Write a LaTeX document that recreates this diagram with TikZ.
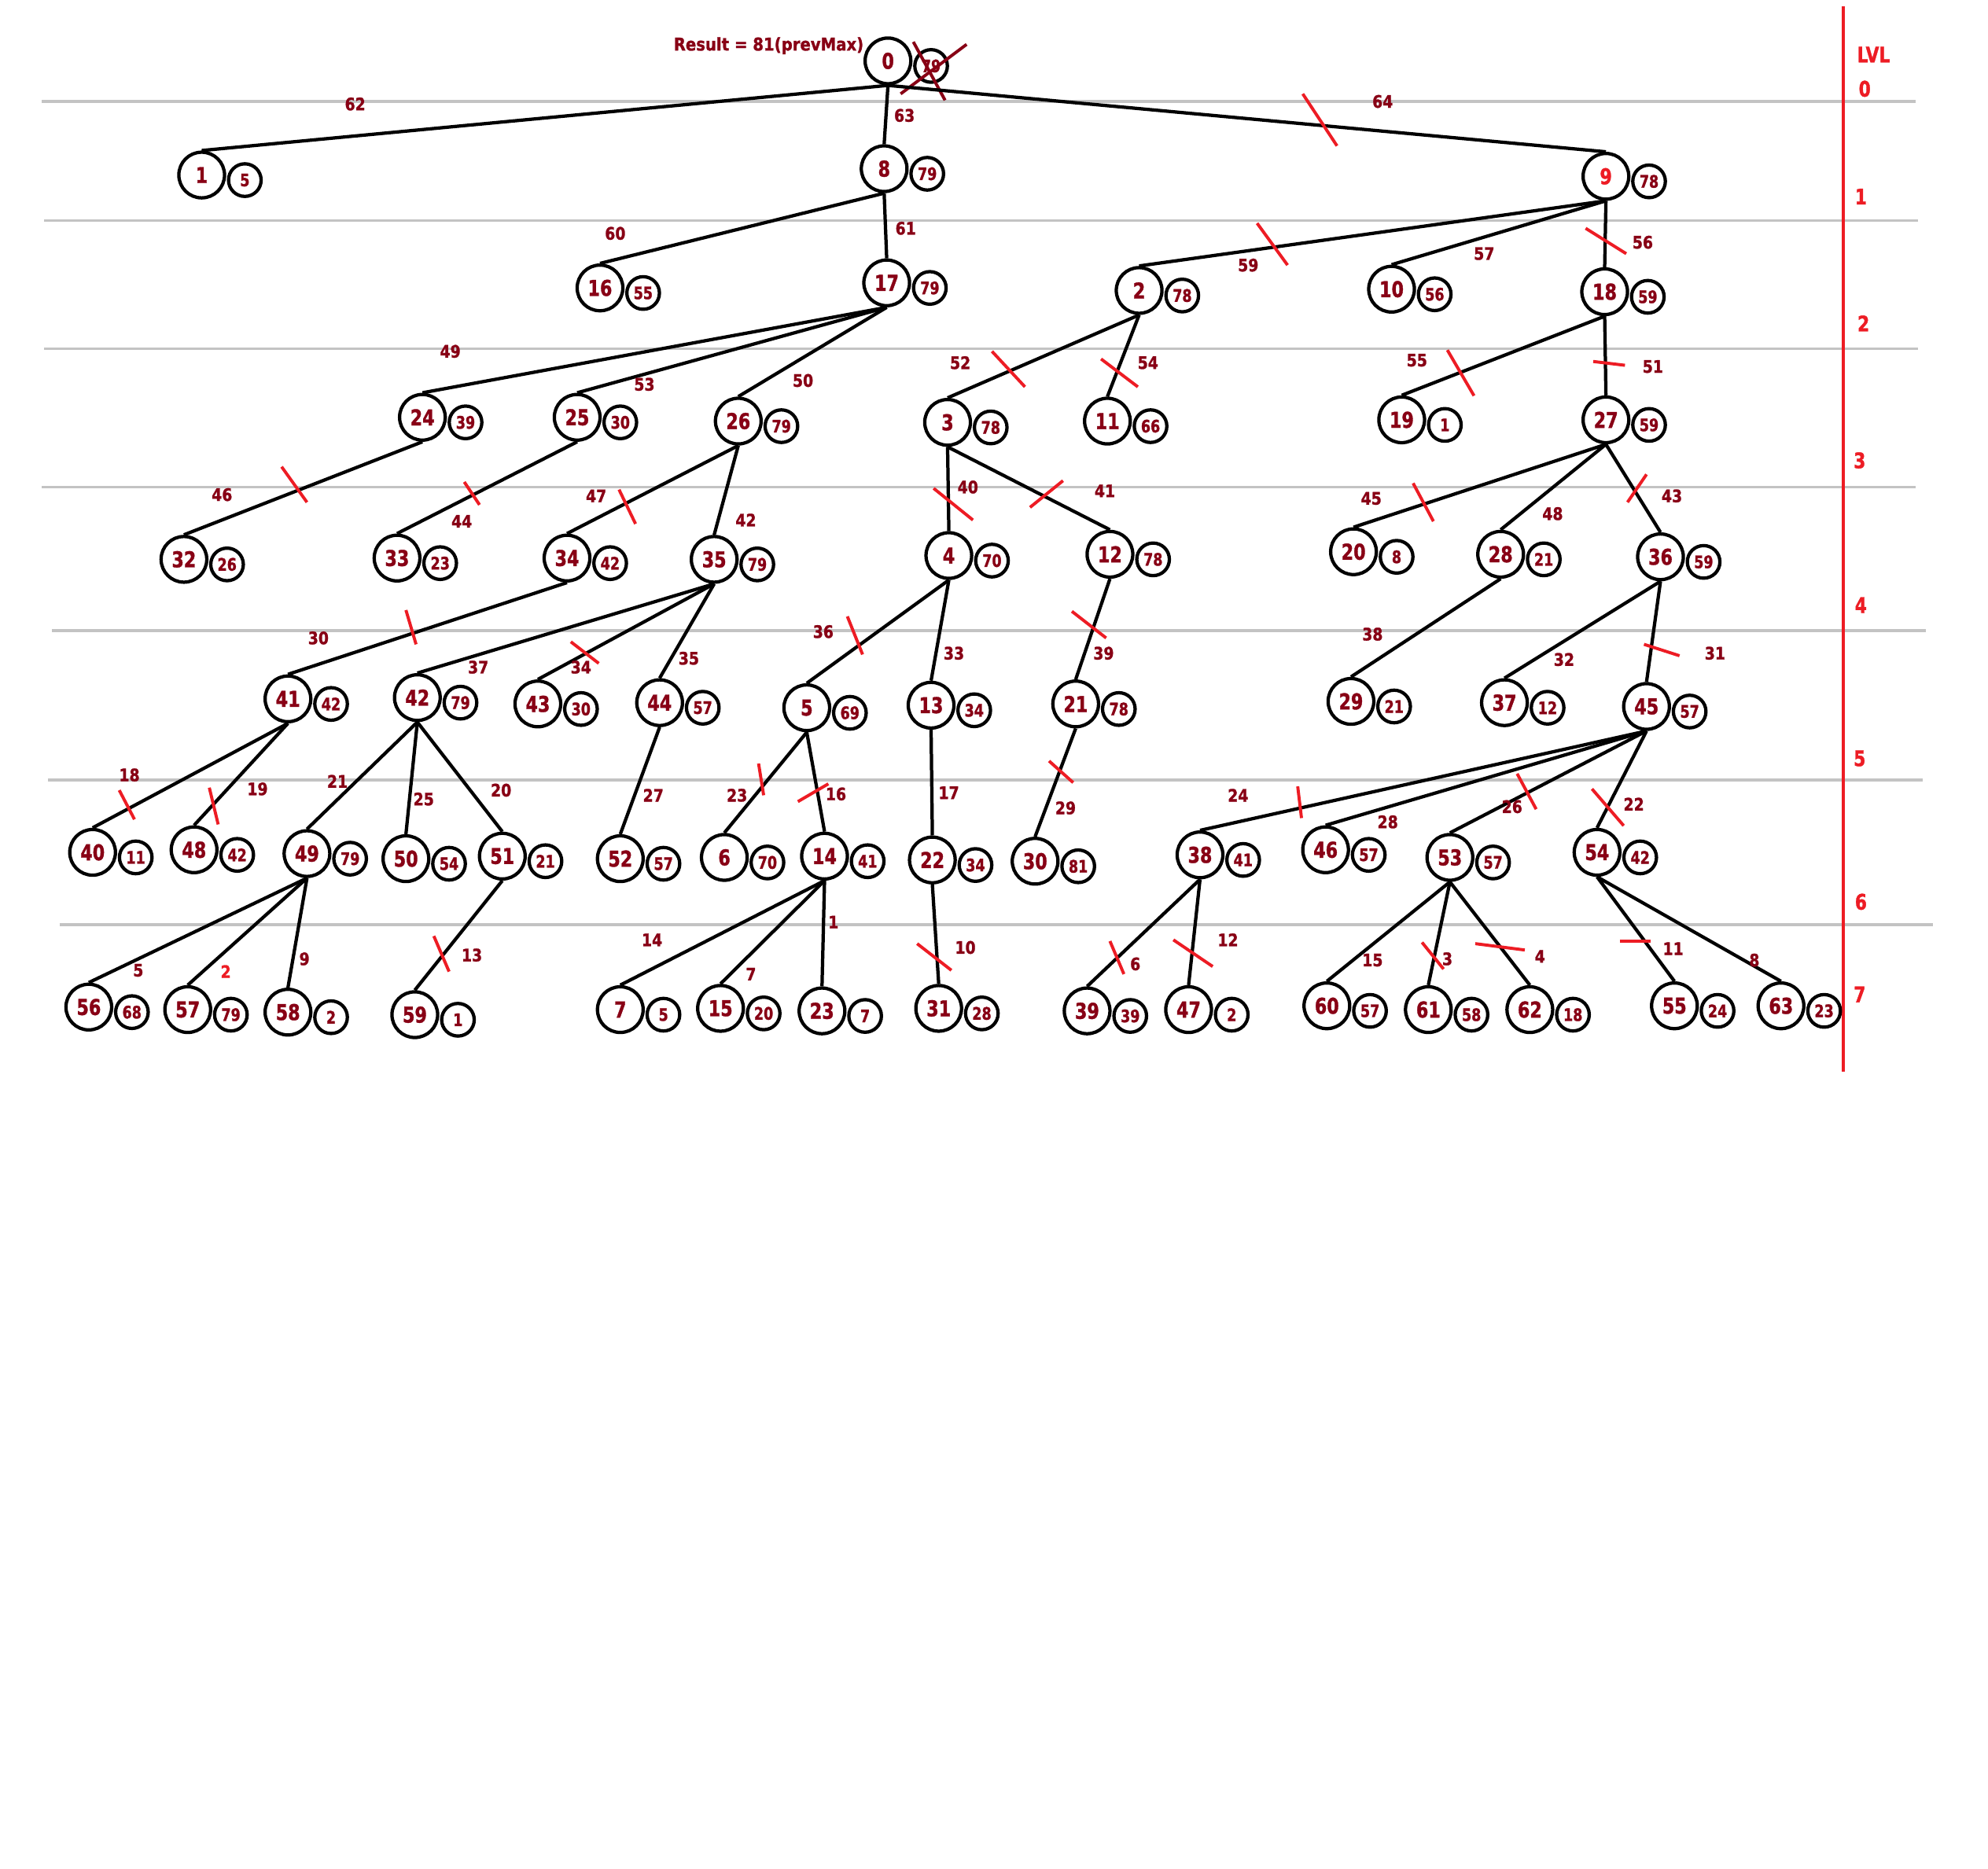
\documentclass[tikz,border=0pt]{standalone}
\usepackage{fontspec}
\setmainfont{DejaVu Sans}[BoldFeatures={FakeBold=1.2}]
\newfontfamily\nfont{DejaVu Sans}[FakeStretch=0.8,BoldFeatures={FakeBold=1.2}]
\newfontfamily\lfont{DejaVu Sans}[FakeStretch=0.86,BoldFeatures={FakeBold=1.2}]
\newfontfamily\rfont{DejaVu Sans}[FakeStretch=0.88,BoldFeatures={FakeBold=1.2}]
\definecolor{dred}{RGB}{136,0,21}
\definecolor{lred}{RGB}{237,28,36}
\definecolor{lgray}{RGB}{195,195,195}
\tikzset{
 big/.style={circle,draw=black,line width=2.6pt,minimum size=35.6pt,inner sep=0pt,text=dred,font=\nfont\bfseries\fontsize{17}{17}\selectfont},
 small/.style={circle,draw=black,line width=2.6pt,minimum size=25.4pt,inner sep=0pt,text=dred,font=\nfont\bfseries\fontsize{13.4}{13.4}\selectfont},
 edge/.style={line width=2.6pt,black},
 cut/.style={line width=2.4pt,lred},
 xmark/.style={line width=2.4pt,dred},
 gridline/.style={line width=2.2pt,lgray},
 elab/.style={inner sep=0pt,text=dred,font=\lfont\bfseries\fontsize{13.4}{13.4}\selectfont},
 lvl/.style={inner sep=0pt,text=lred,font=\nfont\bfseries\fontsize{16.7}{16.7}\selectfont},
}
\newcommand\tn[5]{\node[big] (n#1) at (#2,#3) {#4};\node[small] (n#1v) at ({#2+34},{#3+4}) {#5};}
\begin{document}
\begin{tikzpicture}[x=0.9884pt,y=-0.9884pt]
\fill[white] (0,0) rectangle (1567.2,1473.1);
\useasboundingbox (0,0) rectangle (1567.2,1473.1);
% grid lines
\foreach \y/\a/\b in {80/33/1510,174/35/1512,275/35/1512,384/33/1510,497/41/1518,615/38/1516,729/47/1524}
  \draw[gridline] (\a,\y) -- (\b,\y);
% level axis
\draw[line width=2.8pt,lred] (1453,5) -- (1453,845);
\node[lvl] (lv) at (1477,43) {LVL};
\foreach \t/\x/\y in {0/1470/70,1/1467/155,2/1469/255,3/1466/363,4/1467/477,5/1466/598,6/1467/711,7/1466/784}
  \node[lvl] (lv\t) at (\x,\y) {\t};
\node[inner sep=0pt,text=dred,anchor=east,font=\rfont\bfseries\fontsize{13.7}{13.7}\selectfont] (res) at (681,36) {Result = 81(prevMax)};
% nodes
\tn{0}{700}{48}{0}{79}
\tn{1}{159}{138}{1}{5}
\tn{8}{697}{133}{8}{79}
\tn{9}{1266}{139}{\textcolor{lred}{9}}{78}
\tn{16}{473}{227}{16}{55}
\tn{17}{699}{223}{17}{79}
\tn{2}{898}{229}{2}{78}
\tn{10}{1097}{228}{10}{56}
\tn{18}{1265}{230}{18}{59}
\tn{24}{333}{329}{24}{39}
\tn{25}{455}{329}{25}{30}
\tn{26}{582}{332}{26}{79}
\tn{3}{747}{333}{3}{78}
\tn{11}{873}{332}{11}{66}
\tn{19}{1105}{331}{19}{1}
\tn{27}{1266}{331}{27}{59}
\tn{32}{145}{441}{32}{26}
\tn{33}{313}{440}{33}{23}
\tn{34}{447}{440}{34}{42}
\tn{35}{563}{441}{35}{79}
\tn{4}{748}{438}{4}{70}
\tn{12}{875}{437}{12}{78}
\tn{20}{1067}{435}{20}{8}
\tn{28}{1183}{437}{28}{21}
\tn{36}{1309}{439}{36}{59}
\tn{41}{227}{551}{41}{42}
\tn{42}{329}{550}{42}{79}
\tn{43}{424}{555}{43}{30}
\tn{44}{520}{554}{44}{57}
\tn{5}{636}{558}{5}{69}
\tn{13}{734}{556}{13}{34}
\tn{21}{848}{555}{21}{78}
\tn{29}{1065}{553}{29}{21}
\tn{37}{1186}{554}{37}{12}
\tn{45}{1298}{557}{45}{57}
\tn{40}{73}{672}{40}{11}
\tn{48}{153}{670}{48}{42}
\tn{49}{242}{673}{49}{79}
\tn{50}{320}{677}{50}{54}
\tn{51}{396}{675}{51}{21}
\tn{52}{489}{677}{52}{57}
\tn{6}{571}{676}{6}{70}
\tn{14}{650}{675}{14}{41}
\tn{22}{735}{678}{22}{34}
\tn{30}{816}{679}{30}{81}
\tn{38}{946}{674}{38}{41}
\tn{46}{1045}{670}{46}{57}
\tn{53}{1143}{676}{53}{57}
\tn{54}{1259}{672}{54}{42}
\tn{56}{70}{794}{56}{68}
\tn{57}{148}{796}{57}{79}
\tn{58}{227}{798}{58}{2}
\tn{59}{327}{800}{59}{1}
\tn{7}{489}{796}{7}{5}
\tn{15}{568}{795}{15}{20}
\tn{23}{648}{797}{23}{7}
\tn{31}{740}{795}{31}{28}
\tn{39}{857}{797}{39}{39}
\tn{47}{937}{796}{47}{2}
\tn{60}{1046}{793}{60}{57}
\tn{61}{1126}{796}{61}{58}
\tn{62}{1206}{796}{62}{18}
\tn{55}{1320}{793}{55}{24}
\tn{63}{1404}{793}{63}{23}
% crossed-out value of the root
\draw[xmark] (710,74) -- (762,35);
\draw[xmark] (720,33) -- (745,79);
% edges
\foreach \p/\c in {0/1,0/8,0/9,8/16,8/17,9/2,9/10,9/18,17/24,17/25,17/26,2/3,2/11,18/19,18/27,
  24/32,25/33,26/34,26/35,3/4,3/12,27/20,27/28,27/36,34/41,35/42,35/43,35/44,4/5,4/13,12/21,28/29,
  36/37,36/45,41/40,41/48,42/49,42/50,42/51,44/52,5/6,5/14,13/22,21/30,45/38,45/46,45/53,45/54,
  49/56,49/57,49/58,51/59,14/7,14/15,14/23,22/31,38/39,38/47,53/60,53/61,53/62,54/55,54/63}
  \draw[edge] (n\p.south) -- (n\c.north);
% edge labels
\foreach \t/\x/\y in {62/280/82,63/713/91,64/1090/80,60/485/184,61/714/180,59/984/209,57/1170/200,56/1295/191,
  49/355/277,53/508/303,50/633/300,52/757/286,54/905/286,55/1117/284,51/1303/289,
  46/175/390,44/364/411,47/470/391,42/588/410,40/763/384,41/871/387,45/1081/393,48/1224/405,43/1318/391,
  30/251/503,37/377/526,34/458/526,35/543/519,36/649/498,33/752/515,39/870/515,38/1082/500,32/1233/520,31/1352/515,
  18/102/611,19/203/622,21/266/616,25/334/630,20/395/623,27/515/627,23/581/627,16/659/626,17/748/625,29/840/637,
  24/976/627,28/1094/648,26/1192/636,22/1288/634,
  5/109/765,9/240/756,13/372/753,14/514/741,7/592/768,1/657/727,10/761/747,6/895/760,12/968/741,
  15/1082/757,3/1141/756,4/1214/754,11/1319/748,8/1383/757}
  \node[elab] (e\t) at (\x,\y) {\t};
\node[elab,text=lred] (e2) at (178,766) {2};
% cut marks
\foreach \a/\b/\c/\d in {1027/74/1054/115, 991/176/1015/209, 1250/180/1282/200,
  782/277/808/305, 868/283/897/305, 1141/276/1162/312, 1256/285/1281/288,
  222/368/242/396, 366/380/378/398, 488/386/501/413, 736/385/767/410, 812/400/838/379,
  1114/381/1130/411, 1298/374/1283/396,
  320/481/328/508, 450/506/472/523, 668/486/680/516, 845/482/872/503, 1296/508/1324/517,
  94/623/106/646, 165/621/172/650, 598/602/602/627, 629/632/653/618, 827/600/846/617,
  1023/620/1026/645, 1196/610/1211/638, 1255/622/1280/651,
  342/738/354/766, 723/744/750/765, 875/742/886/768, 925/741/956/762,
  1121/743/1138/764, 1163/744/1202/749, 1277/742/1301/742}
  \draw[cut] (\a,\b) -- (\c,\d);
\end{tikzpicture}
\end{document}
